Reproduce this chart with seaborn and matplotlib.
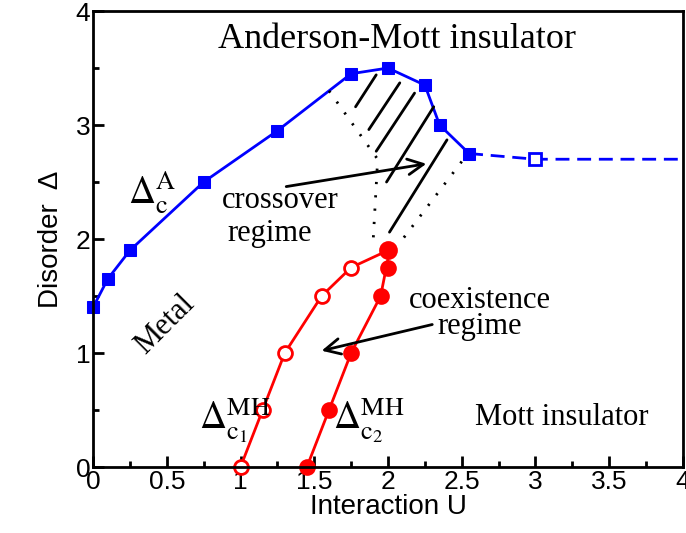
import matplotlib
matplotlib.use("Agg")
import matplotlib.pyplot as plt
import seaborn as sns

# Anderson transition line, Delta_c^A
u_anderson = [0.0, 0.1, 0.25, 0.75, 1.25, 1.75, 2.0, 2.25, 2.35, 2.55]
d_anderson = [1.4, 1.65, 1.9, 2.5, 2.95, 3.45, 3.5, 3.35, 3.0, 2.75]
# extrapolated part (dashed, open square)
u_anderson_ext = [2.55, 3.0, 4.0]
d_anderson_ext = [2.75, 2.7, 2.7]

# Mott-Hubbard lines
u_c1 = [1.0, 1.15, 1.3, 1.55, 1.75, 2.0]
d_c1 = [0.0, 0.5, 1.0, 1.5, 1.75, 1.9]
u_c2 = [1.45, 1.6, 1.75, 1.95, 2.0, 2.0]
d_c2 = [0.0, 0.5, 1.0, 1.5, 1.75, 1.9]

# crossover region: dotted borders and hatch segments
dot_left_u = [1.6, 1.93, 1.9]
dot_left_d = [3.3, 2.7, 2.0]
dot_right_u = [2.5, 2.1]
dot_right_d = [2.68, 2.0]
hatch_u = [(1.78, 1.92), (1.87, 2.08), (1.92, 2.18), (1.99, 2.31), (2.01, 2.40)]
hatch_d = [(3.16, 3.44), (2.96, 3.37), (2.77, 3.28), (2.50, 3.16), (2.06, 2.87)]

sns.set_style("ticks")
plt.rcParams.update({
    "mathtext.fontset": "stix",
    "axes.edgecolor": "black",
    "text.color": "black",
    "axes.labelcolor": "black",
    "xtick.color": "black",
    "ytick.color": "black",
})
serif = ["Liberation Serif", "DejaVu Serif"]
sans = ["Liberation Sans", "DejaVu Sans"]

fig = plt.figure(figsize=(6.86, 5.33), dpi=100)
ax = fig.add_axes([0.1356, 0.1238, 0.8600, 0.8555])

blue = (0, 0, 1)
red = (1, 0, 0)

sns.lineplot(x=u_anderson, y=d_anderson, sort=False, color=blue, lw=2,
             marker="s", markersize=9, markeredgecolor=blue, ax=ax, clip_on=False)
sns.lineplot(x=u_anderson_ext, y=d_anderson_ext, sort=False, color=blue, lw=2,
             dashes=(5, 2.8), ax=ax)
ax.plot(u_anderson_ext[1], d_anderson_ext[1], "s", ms=9, mfc="white", mec=blue, mew=2)

sns.lineplot(x=u_c1, y=d_c1, sort=False, color=red, lw=2, ax=ax)
ax.plot(u_c1[:-1], d_c1[:-1], "o", ms=10, mfc="white", mec=red, mew=2, clip_on=False)
sns.lineplot(x=u_c2, y=d_c2, sort=False, color=red, lw=2, ax=ax)
ax.plot(u_c2[:-1], d_c2[:-1], "o", ms=10, mfc=red, mec=red, mew=2, clip_on=False)
ax.plot(u_c2[-1], d_c2[-1], "o", ms=11.5, mfc=red, mec=red, mew=2)

ax.plot(dot_left_u, dot_left_d, color="black", lw=2, ls=(0, (0.8, 4)))
ax.plot(dot_right_u, dot_right_d, color="black", lw=2, ls=(0, (0.8, 4)))
for hu, hd in zip(hatch_u, hatch_d):
    ax.plot(hu, hd, color="black", lw=2)

# labels
ax.text(2.06, 3.75, "Anderson-Mott insulator", family=serif, fontsize=26,
        ha="center", va="center")
ax.text(1.27, 2.34, "crossover", family=serif, fontsize=22, ha="center", va="center")
ax.text(1.2, 2.05, "regime", family=serif, fontsize=22, ha="center", va="center")
ax.annotate("", xy=(2.26, 2.66), xytext=(1.31, 2.46),
            arrowprops=dict(arrowstyle="->", lw=2, color="black", mutation_scale=28,
                            shrinkA=0, shrinkB=0))
ax.text(2.62, 1.46, "coexistence", family=serif, fontsize=22, ha="center", va="center")
ax.text(2.62, 1.23, "regime", family=serif, fontsize=22, ha="center", va="center")
ax.annotate("", xy=(1.55, 1.02), xytext=(2.30, 1.25),
            arrowprops=dict(arrowstyle="->", lw=2, color="black", mutation_scale=28,
                            shrinkA=0, shrinkB=0))
ax.text(0.49, 1.25, "Metal", family=serif, fontsize=22, rotation=45,
        ha="center", va="center")
ax.text(3.18, 0.43, "Mott insulator", family=serif, fontsize=22, ha="center", va="center")

ax.text(0.40, 2.41, r"$\Delta_{\mathrm{c}}^{\mathrm{A}}$", fontsize=27,
        ha="center", va="center")
ax.text(0.96, 0.41, r"$\Delta_{\mathrm{c}_1}^{\mathrm{MH}}$", fontsize=27,
        ha="center", va="center")
ax.text(1.87, 0.41, r"$\Delta_{\mathrm{c}_2}^{\mathrm{MH}}$", fontsize=27,
        ha="center", va="center")

ax.set_xlim(0, 4)
ax.set_ylim(0, 4)
ax.set_xticks([0, 0.5, 1, 1.5, 2, 2.5, 3, 3.5, 4])
ax.set_xticklabels(["0", "0.5", "1", "1.5", "2", "2.5", "3", "3.5", "4"])
ax.set_xticks([0.25, 0.75, 1.25, 1.75, 2.25, 2.75, 3.25, 3.75], minor=True)
ax.set_yticks([0, 1, 2, 3, 4])
ax.set_yticks([0.5, 1.5, 2.5, 3.5], minor=True)
ax.tick_params(which="both", direction="in", width=2, top=False, right=False,
               labelsize=19, pad=2)
ax.tick_params(which="major", length=8)
ax.tick_params(which="minor", length=4)
for lab in ax.get_xticklabels() + ax.get_yticklabels():
    lab.set_family(sans)
for sp in ax.spines.values():
    sp.set_linewidth(2)
    sp.set_visible(True)

ax.set_xlabel("Interaction U", family=sans, fontsize=20, labelpad=0)
ax.set_ylabel("Disorder  \u0394", family=sans, fontsize=20, labelpad=8)

fig.savefig("out.png", dpi=100)
